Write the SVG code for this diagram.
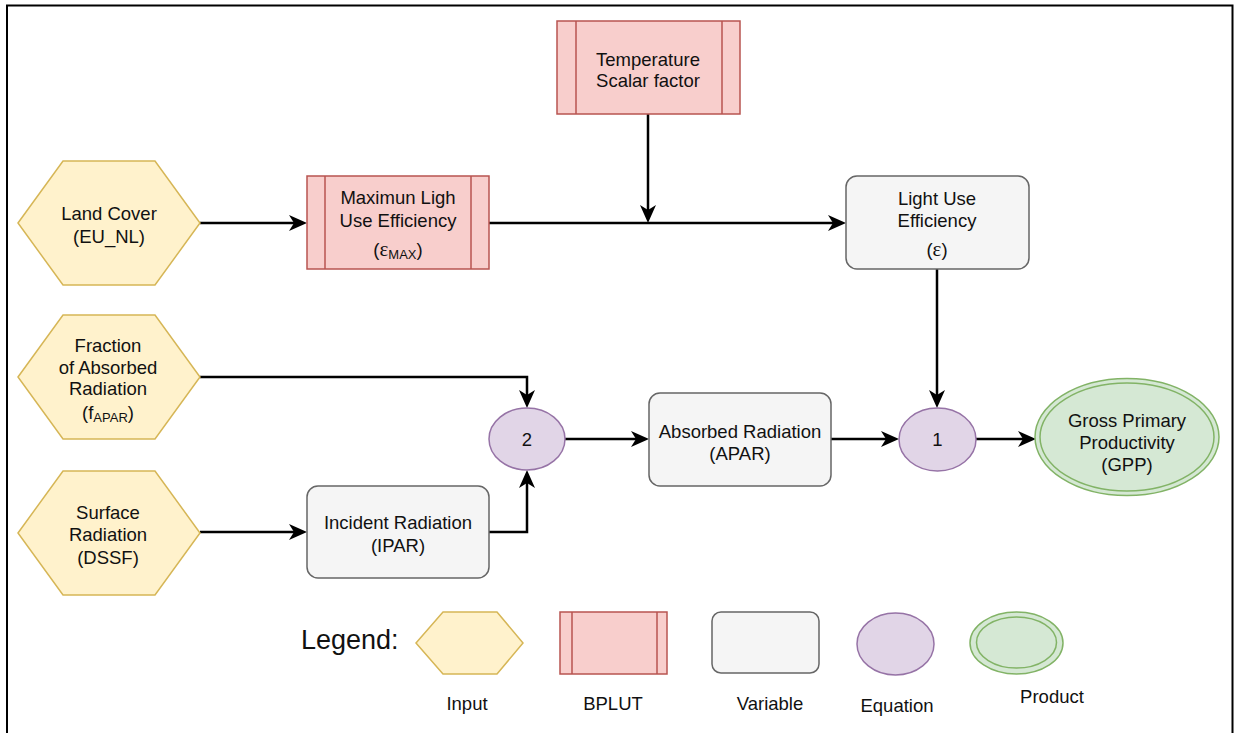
<svg xmlns="http://www.w3.org/2000/svg" width="1235" height="733" viewBox="0 0 1235 733">
  <defs>
    <marker id="arrow" markerUnits="userSpaceOnUse" markerWidth="18" markerHeight="16" refX="13" refY="8" orient="auto">
      <path d="M0,0 L18,8 L0,16 L5,8 Z" fill="#000"/>
    </marker>
    <style>
      text { font-family: "Liberation Sans", Arial, sans-serif; font-size: 18.5px; fill: #111; text-anchor: middle; }
      .sub { font-size: 13px; }
      .eps { font-family: "Liberation Serif", "Times New Roman", serif; font-size: 21px; }
      .input { fill: #fff2cc; stroke: #d6b656; stroke-width: 1.5; }
      .bplut { fill: #f8cecc; stroke: #b85450; stroke-width: 1.5; }
      .bplut-line { stroke: #b85450; stroke-width: 1.5; fill: none; }
      .var { fill: #f5f5f5; stroke: #666666; stroke-width: 1.5; }
      .eq { fill: #e1d5e7; stroke: #9673a6; stroke-width: 1.5; }
      .prod { fill: #d5e8d4; stroke: #82b366; stroke-width: 1.5; }
      .edge { fill: none; stroke: #000; stroke-width: 2.5; marker-end: url(#arrow); }
      .plain { fill: none; stroke: #000; stroke-width: 2.5; }
    </style>
  </defs>

  <rect width="1235" height="733" fill="#fff"/>
  <!-- outer frame -->
  <path d="M7,734 V5.5 H1232.5 V734" fill="none" stroke="#000" stroke-width="2"/>

  <!-- connectors -->
  <g id="connectors">
    <path class="edge" d="M200,223 H302"/>
    <path class="edge" d="M489,223 H841"/>
    <path class="edge" d="M648,114 V218"/>
    <path class="edge" d="M937,269 V403"/>
    <path class="edge" d="M200,377 H527 V403"/>
    <path class="edge" d="M489,532 H527 V475"/>
    <path class="edge" d="M200,532 H302"/>
    <path class="edge" d="M565,439 H644"/>
    <path class="edge" d="M831,439 H894"/>
    <path class="edge" d="M976,439 H1031"/>
  </g>

  <!-- inputs -->
  <g id="land-cover">
    <polygon class="input" points="18,223 63,161 155,161 200,223 155,285 63,285"/>
    <text x="109" y="219.5">Land Cover</text>
    <text x="109" y="242.5">(EU_NL)</text>
  </g>
  <g id="fapar">
    <polygon class="input" points="18,377 63,315 155,315 200,377 155,439 63,439"/>
    <text x="108" y="351.5">Fraction</text>
    <text x="108" y="373.5">of Absorbed</text>
    <text x="108" y="394.5">Radiation</text>
    <text x="108" y="419">(f<tspan class="sub" dy="3">APAR</tspan><tspan dy="-3">)</tspan></text>
  </g>
  <g id="dssf">
    <polygon class="input" points="18,533 63,471 155,471 200,533 155,595 63,595"/>
    <text x="108" y="518.5">Surface</text>
    <text x="108" y="540.5">Radiation</text>
    <text x="108" y="563.5">(DSSF)</text>
  </g>

  <!-- BPLUT parameters -->
  <g id="emax">
    <rect class="bplut" x="307" y="176" width="182" height="93"/>
    <path class="bplut-line" d="M325,176 V269 M471,176 V269"/>
    <text x="398" y="203.5">Maximun Ligh</text>
    <text x="398" y="226.5">Use Efficiency</text>
    <text x="398" y="256">(<tspan class="eps">ε</tspan><tspan class="sub" dy="3">MAX</tspan><tspan dy="-3">)</tspan></text>
  </g>
  <g id="temperature">
    <rect class="bplut" x="557" y="21" width="183" height="93"/>
    <path class="bplut-line" d="M576,21 V114 M722,21 V114"/>
    <text x="648" y="65.5">Temperature</text>
    <text x="648" y="86.5">Scalar factor</text>
  </g>

  <!-- variables -->
  <g id="lue">
    <rect class="var" x="846" y="176" width="183" height="93" rx="11"/>
    <text x="937" y="204.5">Light Use</text>
    <text x="937" y="226.5">Efficiency</text>
    <text x="937" y="256">(<tspan class="eps">ε</tspan>)</text>
  </g>
  <g id="apar">
    <rect class="var" x="649" y="393" width="182" height="93" rx="11"/>
    <text x="740" y="437.5">Absorbed Radiation</text>
    <text x="740" y="459.5">(APAR)</text>
  </g>
  <g id="ipar">
    <rect class="var" x="307" y="486" width="182" height="92" rx="11"/>
    <text x="398" y="528.5">Incident Radiation</text>
    <text x="398" y="551.5">(IPAR)</text>
  </g>

  <!-- equations -->
  <g id="eq2">
    <ellipse class="eq" cx="527" cy="439" rx="38" ry="31"/>
    <text x="527" y="445.5">2</text>
  </g>
  <g id="eq1">
    <ellipse class="eq" cx="937.5" cy="439.5" rx="38.5" ry="31.5"/>
    <text x="937.5" y="446">1</text>
  </g>

  <!-- product -->
  <g id="gpp">
    <ellipse class="prod" cx="1127" cy="437" rx="92" ry="58.5"/>
    <ellipse class="prod" cx="1127" cy="437" rx="87" ry="54"/>
    <text x="1127" y="426.5">Gross Primary</text>
    <text x="1127" y="448.5">Productivity</text>
    <text x="1127" y="470.5">(GPP)</text>
  </g>

  <!-- legend -->
  <g id="legend">
    <text x="301" y="649" style="font-size:27px;text-anchor:start">Legend:</text>
    <polygon class="input" points="416,643 443,612 497,612 523,643 497,674 443,674"/>
    <text x="467" y="710">Input</text>
    <rect class="bplut" x="560" y="612" width="107" height="62"/>
    <path class="bplut-line" d="M572,612 V674 M657,612 V674"/>
    <text x="613" y="710">BPLUT</text>
    <rect class="var" x="712" y="612" width="107" height="61" rx="9"/>
    <text x="770" y="710">Variable</text>
    <ellipse class="eq" cx="895.5" cy="644" rx="38.5" ry="31"/>
    <text x="897" y="712">Equation</text>
    <ellipse class="prod" cx="1016.5" cy="643" rx="46.5" ry="31"/>
    <ellipse class="prod" cx="1016.5" cy="642.5" rx="40" ry="25.5"/>
    <text x="1052" y="703">Product</text>
  </g>
</svg>
